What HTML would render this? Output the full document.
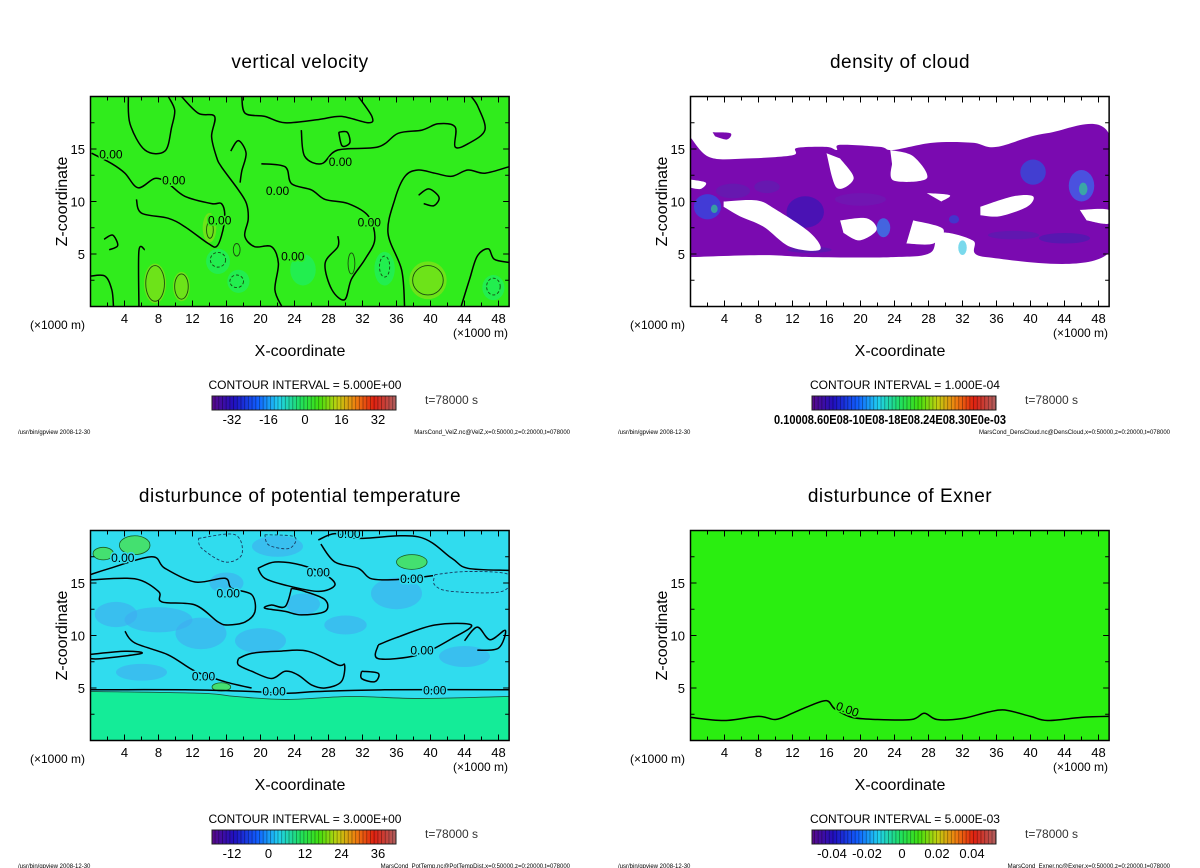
<!DOCTYPE html>
<html><head><meta charset="utf-8"><style>
html,body{margin:0;padding:0;background:#fff;width:1200px;height:868px;overflow:hidden}
svg{display:block;position:absolute;left:0;top:0;font-family:"Liberation Sans","DejaVu Sans",sans-serif}
</style></head><body>
<svg id="fig" width="1200" height="868" viewBox="0 0 1200 868" xmlns="http://www.w3.org/2000/svg">
<defs>
<linearGradient id="rainbow" x1="0" x2="1" y1="0" y2="0">
<stop offset="0" stop-color="#5a0a8a"/><stop offset="0.12" stop-color="#2010c0"/><stop offset="0.25" stop-color="#1060ff"/>
<stop offset="0.36" stop-color="#20d0f0"/><stop offset="0.48" stop-color="#20e060"/><stop offset="0.58" stop-color="#40e010"/>
<stop offset="0.68" stop-color="#c0d010"/><stop offset="0.78" stop-color="#f08010"/><stop offset="0.88" stop-color="#e02010"/><stop offset="1" stop-color="#b06060"/>
</linearGradient>
<pattern id="stripes" width="3.7" height="20" patternUnits="userSpaceOnUse"><rect x="0" y="0" width="0.9" height="20" fill="rgba(0,0,0,0.35)"/></pattern>
</defs>
<g id="root"></g>
</svg>
<script>
// ---------- data ----------
var xTickValues = [4,8,12,16,20,24,28,32,36,40,44,48];
var zTickValues = [5,10,15];
var velCbarLabels = ["-32","-16","0","16","32"];
var ptCbarLabels = ["-12","0","12","24","36"];
var exCbarLabels = ["-0.04","-0.02","0","0.02","0.04"];

var velContours = [
 [[0.13,14.6],[2.5,13.6],[4.05,12.7],[5.6,11.3],[7.6,12.2],[9.15,11.7],[11.1,10.5],[14.25,9.8],[15.4,9.8],[15.8,8.6],[15.4,6.7],[14.8,5.7],[13.85,6.0],[11.1,7.6],[9.15,8.4],[6.0,8.9],[5.4,10.2]],
 [[5.7,0],[5.7,5.3],[6.4,5.4]],
 [[4.45,20],[4.65,17.4],[6.4,14.9],[8.75,14.8],[9.55,17.1],[9.9,18.7],[9.15,20]],
 [[10.7,20],[12.7,18.4],[14.6,18.1],[14.25,16.2],[14.8,14.3],[15.4,13.3],[17.4,11.1],[18.35,9.8],[18.55,8.3],[18.15,6.7],[19.3,5.7],[21.3,5.7],[22.1,4.1],[21.7,1.6],[22.5,0]],
 [[17.8,20],[18.2,18.4],[20.5,18.1],[22.9,17.5],[26.8,17.8],[29.5,18.1],[32.7,17.5],[33.1,18.1],[31.5,20]],
 [[24.8,16.8],[25.2,14.3],[27.2,13.6],[29.1,14.9],[33.85,15.2],[36.2,16.5],[39,16.8],[40.9,17.4],[42.9,17.1],[42.9,15.2],[44.4,15.5],[46.4,16.8],[45.6,19.0],[44.8,20]],
 [[20.1,13.6],[22.9,13.3],[23.65,11.7],[26,11.1],[27.6,10.2],[30.3,9.8],[32.7,8.6],[33.45,6.4],[32.3,4.5],[30.7,2.6],[29.9,0.65],[28.4,1.6],[27.6,4.1],[29.1,5.7],[29.1,6.7]],
 [[36.95,0],[36.6,3.5],[35,7],[35.8,10.2],[37,12.4],[38.55,13],[40.5,12.7],[42.5,12.4],[44.4,13],[46.4,12.7],[49.2,13.3]],
 [[43.6,0],[44.6,2.6],[45.5,4.8],[46.8,5.5],[47.5,4.5],[49.2,4.2]],
 [[0,2.9],[1.7,2.9],[2.5,1.6],[2.7,0]],
 [[16.5,14.8],[17.4,15.8],[18.3,14.6],[17.8,12.9],[17.6,11.8]],
 [[29.2,16.6],[30.2,16.6],[30.5,15.6],[29.6,15.3],[29.2,16.6]],
 [[38.6,10.6],[39.8,11.2],[41,10.4],[40.4,9.6],[39.2,9.8]],
 [[1.6,6.4],[2.6,6.8],[3.2,5.8],[2.2,5.4]]
];
var velThinLoops = [[7.6,2.2,1.1,1.7],[10.7,1.9,0.8,1.2],[39.7,2.5,1.8,1.4],[14.05,7.3,0.4,0.8],[17.2,5.4,0.4,0.6],[30.7,4.1,0.4,1.0]];
var velDashLoops = [[15,4.45,0.9,0.7],[17.2,2.4,0.8,0.6],[34.6,3.8,0.6,1.0],[47.4,1.9,0.8,0.8]];
var velLabels = [[2.4,14.1],[9.8,11.6],[15.2,7.8],[22,10.6],[29.4,13.4],[32.8,7.6],[23.8,4.4]];
var velBrightSpots = [[7.6,2.2,1.3,1.9],[39.7,2.5,2.2,1.8],[10.7,1.9,1,1.4],[14,7.5,0.8,1.4]];
var velCyanSpots = [[15,4.3,1.4,1.2],[17.4,2.4,1.3,1.1],[34.6,3.6,1.2,1.6],[47.4,1.8,1.3,1.2],[25,3.5,1.5,1.5]];

var cloudOutline = [[0,16.1],[2.3,14.2],[6.6,14.1],[12,14.4],[12.5,15.1],[16,15.2],[17.2,14.9],[17.6,15.4],[22.3,15.2],[23.8,14.9],[28.5,15.6],[33.2,15.6],[36,15.2],[41.9,16.5],[49.2,16.5],[49.2,5.1],[34.8,4.7],[33.2,6.3],[29.3,7],[28.2,5.1],[23.8,4.7],[14.4,4.7],[8.5,4.9],[0,4.7]];
var cloudIsland = [[2.6,16.6],[4.7,16.5],[4.3,15.9],[2.9,16.2]];
var cloudHoles = [
 [[3.9,10.0],[7.8,10.1],[10.1,9.2],[14.1,7.0],[15.2,5.4],[11.7,5.7],[8.6,7.6],[5.8,8.6],[3.9,9.5]],
 [[23.5,14.9],[26.2,14.3],[27.8,12.2],[23.9,12.0],[23.7,13.6]],
 [[16,14.6],[17.2,11.3],[19.2,12.2],[17.6,14.1]],
 [[34.1,9.5],[38,10.5],[40.3,10.5],[39.6,9.5],[36.4,8.6],[34.1,8.7]],
 [[17.6,8.2],[20.7,8.4],[21.9,7.3],[19.9,6.3],[18,7.0]],
 [[26.2,8.2],[29.7,7.4],[28.6,6.0],[25.4,6.0]],
 [[45.8,9.2],[49.2,9.2],[49.2,7.9],[46.6,8.2]],
 [[0,12.1],[1.8,11.8],[1.2,11.2],[0,11.3]],
 [[27.8,10.8],[30.5,10.6],[29.5,10.0]]
];
var cloudPatches = [[13.5,9,2.2,1.5,"#2a18b8"],[5,11,2,0.7,"#5a22b0"],[9,11.4,1.5,0.6,"#5a22b0"],[2,9.5,1.6,1.2,"#1c5cf0"],[46,11.5,1.5,1.5,"#2a80ff"],[40.3,12.8,1.5,1.2,"#1c60e8"],[22.7,7.5,0.8,0.9,"#20a0ff"],[32,5.6,0.5,0.7,"#20c0e0"],[44,6.5,3,0.5,"#4020b0"],[14,5.4,2.6,0.3,"#4a20b0"],[38,6.8,3,0.4,"#5020b0"],[20,10.2,3,0.6,"#6a1cb4"],[46.2,11.2,0.5,0.6,"#30e080"],[2.8,9.3,0.4,0.4,"#30e080"],[31,8.3,0.6,0.4,"#2050e0"]];

var ptContours = [
 [[0,15.8],[2.3,16.4],[7.2,17.5],[8.75,16.4],[12.3,15.1],[15.8,15.45],[16.6,14.5],[18.95,13.9],[19.35,12.3],[18.2,11.3],[16.2,11.0],[15,11.3],[12.3,12.9],[8.4,13.2],[8,14.2],[5.2,15.4],[0,15.3]],
 [[4.05,10.4],[5.2,9.3],[9.15,8.15],[12.3,6.6],[15.8,5.6],[18.95,5.0]],
 [[0,8.2],[4.05,8.5],[6,8.3],[1.3,7.8],[0,7.8]],
 [[33.85,9.1],[36,9.8],[40.5,11],[44.8,11],[42.5,9.7],[38.55,8.15],[33.85,7.8],[33.85,9.1]],
 [[26.8,19.1],[28.75,19.7],[31.5,19.25],[38.55,19.4],[42.5,17.35],[44.4,16.4],[49.2,16.2]],
 [[27.1,18.7],[28.75,17.0],[31.5,16.4],[32.9,15.45],[35,15.3],[37.2,15.4],[40.3,15.7]],
 [[19.7,16.4],[21.7,17.0],[24.8,16.7],[27.6,15.8],[28.75,14.8],[26.8,14.2],[22.9,14.8],[20.5,15.45],[19.7,16.4]],
 [[23.65,14.5],[25.2,14.2],[27.6,13.4],[27.6,12.3],[24.8,11.96],[22.9,12.3],[20.5,12.6],[21.3,12.9],[22.9,12.75],[23.65,14.5]],
 [[17.4,7.8],[18.95,8.3],[22.1,8.5],[25.6,8.5],[29.1,7.2],[29.9,7.2],[29.5,5.6],[27.6,5.0],[26,5.3],[24.4,6.25],[22.9,6.6],[21.3,5.9],[18.95,6.6],[17.4,7.2],[17.4,7.8]],
 [[31.9,6.6],[33.85,6.4],[33.45,5.6],[31.9,5.9],[31.9,6.6]],
 [[0,4.83],[11.1,4.83],[18.95,4.67],[22.9,4.5],[26.8,4.67],[34.6,4.83],[49.2,4.83]],
 [[44,9.5],[45.5,10.8],[47,9.6],[48.8,10.5],[48,8.8],[45.5,8.6]]
];
var ptThin = [[0,4.67],[13.1,4.5],[17,4.2],[22.9,3.9],[30.7,4.2],[38.55,4.0],[49.2,4.2]];
var ptDashed = [
 [[12.7,19.25],[17,19.6],[17.8,17.7],[15.8,17.0],[13.1,18.3],[12.7,19.25]],
 [[40.5,15.8],[44.4,16.1],[49.2,15.8],[48.4,14.2],[42.5,14.2],[40.5,14.8],[40.5,15.8]],
 [[20.5,19.6],[24,19.4],[23.4,18.3],[21,18.6],[20.5,19.6]]
];
var ptLabels = [[3.8,17],[16.2,13.6],[26.8,15.6],[37.8,15.0],[30.4,19.3],[13.3,5.7],[21.6,4.3],[39,8.2],[40.5,4.4]];
var ptBlue = [[8,11.5,4,1.2],[13,10.2,3,1.5],[20,9.5,3,1.2],[25,13,2,1],[36,14,3,1.5],[44,8,3,1],[6,6.5,3,0.8],[22,18.5,3,1],[16,15,2,1],[30,11,2.5,0.9],[3,12,2.5,1.2]];
var ptGreen = [[5.2,18.6,1.8,0.9],[37.8,17.0,1.8,0.7],[15.4,5.1,1.1,0.4],[1.5,17.8,1.2,0.6]];

var exnerLine = [[0,2.2],[4,1.9],[8,2.3],[10,2.0],[12,2.6],[14,3.3],[16,3.8],[17,3.0],[19,2.2],[22,2.0],[26,2.0],[27.5,2.6],[29,2.0],[32,2.1],[35,2.7],[37,2.9],[40,2.3],[42,1.9],[46,2.2],[49.25,2.3]];

// ---------- drawing ----------
var NS = "http://www.w3.org/2000/svg";
var root = document.getElementById("root");
function mk(tag, attrs, parent){var e=document.createElementNS(NS,tag);for(var k in attrs)e.setAttribute(k,attrs[k]);(parent||root).appendChild(e);return e;}
function axX(ox){return function(v){return ox+v*8.5;};}
function axZ(oy){return function(v){return oy-v*10.5;};}
function smooth(pts,sx,sz,closed){
  var p=pts.map(function(q){return [sx(q[0]),sz(q[1])];});
  if(p.length<3){return "M"+p.map(function(q){return q.join(",");}).join("L");}
  var d="M"+p[0][0]+","+p[0][1];
  for(var i=0;i<p.length-1;i++){
    var p0=p[i-1]||p[i],p1=p[i],p2=p[i+1],p3=p[i+2]||p2;
    var c1=[p1[0]+(p2[0]-p0[0])/6,p1[1]+(p2[1]-p0[1])/6],c2=[p2[0]-(p3[0]-p1[0])/6,p2[1]-(p3[1]-p1[1])/6];
    d+="C"+c1[0].toFixed(1)+","+c1[1].toFixed(1)+" "+c2[0].toFixed(1)+","+c2[1].toFixed(1)+" "+p2[0].toFixed(1)+","+p2[1].toFixed(1);
  }
  return d+(closed?"Z":"");
}
function ell(g,e,sx,sz,fill,stroke,dash,w){
  var el=mk("ellipse",{cx:sx(e[0]),cy:sz(e[1]),rx:e[2]*8.5,ry:e[3]*10.5,fill:fill,stroke:stroke||"none","stroke-width":w||1},g);
  if(dash)el.setAttribute("stroke-dasharray",dash);
  return el;
}
function txt(g,x,y,s,size,anchor,extra){
  var t=mk("text",{x:x,y:y,"font-size":size,"text-anchor":anchor||"start",fill:"#000"},g);
  t.textContent=s;
  if(extra)for(var k in extra)t.setAttribute(k,extra[k]);
  return t;
}

function panelFrame(ox,oy,dx,title,ci,cbarLabels,footer,name){
  var g=mk("g",{});
  
  
  var sx=axX(ox),sz=axZ(oy);
  var t=txt(g,dx+300,68,title,19,"middle",{"letter-spacing":"0.5"});
  
  
  var yl=txt(g,0,0,"Z-coordinate",16,"middle",{transform:"translate("+(dx+67)+","+(306.5-105)+") rotate(-90)"});
  
  
  var xl=txt(g,dx+300,356,"X-coordinate",16,"middle");
  
  
  var u1=txt(g,dx+30,329,"(×1000 m)",12,"start");
  
  
  var u2=txt(g,dx+453,337,"(×1000 m)",12,"start");
  
  
  xTickValues.forEach(function(v){
    var tl=txt(g,dx+90.5+v*8.5,323,String(v),13,"middle");
    
    
  });
  zTickValues.forEach(function(v){
    var tl=txt(g,dx+85,306.5-v*10.5+5,String(v),13,"end");
    
    
  });
  var c=txt(g,dx+305,389,"CONTOUR INTERVAL = "+ci,12,"middle");
  
  
  var tt=txt(g,dx+425,404,"t=78000 s",12,"start",{fill:"#333"});
  
  
  var cb=mk("rect",{x:dx+212,y:396,width:184,height:14,fill:"url(#rainbow)",stroke:"#222","stroke-width":1},g);
  
  
  mk("rect",{x:dx+212,y:396,width:184,height:14,fill:"url(#stripes)"},g);
  if(cbarLabels){
    cbarLabels.forEach(function(s,i){
      var l=txt(g,dx+232+i*36.5,424,s,13,"middle");
      
      
    });
  }
  var f1=txt(g,dx+18,434,"/usr/bin/gpview   2008-12-30",6,"start");
  
  
  var f2=txt(g,dx+570,434,footer,6,"end");
  
  
  return g;
}
function axesBox(g,ox,oy,name){
  var sx=axX(ox),sz=axZ(oy);
  var b=mk("rect",{x:ox,y:sz(20),width:49.25*8.5,height:20*10.5,fill:"none",stroke:"#000","stroke-width":1.5},g);
  
  
  var d="";
  for(var v=2;v<=48;v+=2){var L=(v%4==0)?6:4;d+="M"+sx(v)+","+oy+"v-"+L+"M"+sx(v)+","+sz(20)+"v"+L;}
  for(var z=2.5;z<20;z+=2.5){var L2=(z%5==0)?6:4;d+="M"+ox+","+sz(z)+"h"+L2+"M"+(ox+49.25*8.5)+","+sz(z)+"h-"+L2;}
  var tk=mk("path",{d:d,stroke:"#000","stroke-width":1,fill:"none"},g);
  
  
}
function clip(id,ox,oy){
  var cp=mk("clipPath",{id:id},document.querySelector("defs"));
  mk("rect",{x:ox,y:oy-210,width:49.25*8.5,height:210},cp);
}

// ----- Panel 1
(function(){
  var ox=90.5,oy=306.5,sx=axX(ox),sz=axZ(oy);
  var g=panelFrame(ox,oy,0,"vertical velocity","5.000E+00",velCbarLabels,"MarsCond_VelZ.nc@VelZ,x=0:50000,z=0:20000,t=078000","velocity");
  clip("c1",ox,oy);
  var p=mk("g",{"clip-path":"url(#c1)"},g);
  var bg=mk("rect",{x:ox,y:oy-210,width:420,height:210,fill:"#30ec1c"},p);
  
  
  velCyanSpots.forEach(function(e){var s=ell(p,e,sx,sz,"#18f07a");s.setAttribute("opacity","0.55");});
  velBrightSpots.forEach(function(e){var s=ell(p,e,sx,sz,"#88e018");s.setAttribute("opacity","0.7");});
  velContours.forEach(function(c){
    var l=mk("path",{d:smooth(c,sx,sz,false),fill:"none",stroke:"#000","stroke-width":1.5,"stroke-linejoin":"round"},p);
    
    
  });
  velThinLoops.forEach(function(e){var s=ell(p,e,sx,sz,"none","#1a4a10",null,0.9);});
  velDashLoops.forEach(function(e){var s=ell(p,e,sx,sz,"none","#1a4a10","3,2",0.9);});
  velLabels.forEach(function(q){var l=txt(p,sx(q[0]),sz(q[1]),"0.00",12,"middle",{stroke:"#30ec1c","stroke-width":3,"paint-order":"stroke"});});
  axesBox(g,ox,oy,"velocity");
})();

// ----- Panel 2
(function(){
  var ox=690.5,oy=306.5,sx=axX(ox),sz=axZ(oy);
  var g=panelFrame(ox,oy,600,"density of cloud","1.000E-04",null,"MarsCond_DensCloud.nc@DensCloud,x=0:50000,z=0:20000,t=078000","cloud");
  var cl=txt(g,890,424,"0.10008.60E08-10E08-18E08.24E08.30E0e-03",13,"middle",{"font-weight":"bold",textLength:232,lengthAdjust:"spacingAndGlyphs"});
  
  
  clip("c2",ox,oy);
  var p=mk("g",{"clip-path":"url(#c2)"},g);
  var o=mk("path",{d:smooth(cloudOutline,sx,sz,true),fill:"#7a0ab0"},p);
  
  
  var is=mk("path",{d:smooth(cloudIsland,sx,sz,true),fill:"#7a0ab0"},p);
  
  
  cloudPatches.forEach(function(e){var s=ell(p,e,sx,sz,e[4]);s.setAttribute("opacity","0.6");});
  cloudHoles.forEach(function(h){
    var w=mk("path",{d:smooth(h,sx,sz,true),fill:"#fff"},p);
    
    
  });
  axesBox(g,ox,oy,"cloud");
})();

// ----- Panel 3
(function(){
  var ox=90.5,oy=740.5,sx=axX(ox),sz=axZ(oy);
  var g=panelFrame(ox,oy,0,"","3.000E+00",ptCbarLabels,"MarsCond_PotTemp.nc@PotTempDist,x=0:50000,z=0:20000,t=078000","pottemp");
  g.setAttribute("transform","translate(0,434)");
  var t=txt(root,300,502,"disturbunce of potential temperature",19,"middle",{"letter-spacing":"0.5"});
  
  
  var g2=mk("g",{});
  clip("c3",ox,oy);
  var p=mk("g",{"clip-path":"url(#c3)"},g2);
  var bg=mk("rect",{x:ox,y:oy-210,width:420,height:210,fill:"#30dcee"},p);
  
  
  ptBlue.forEach(function(e){var s=ell(p,e,sx,sz,"#40acf0");s.setAttribute("opacity","0.6");});
  var low=mk("path",{d:smooth(ptThin,sx,sz,false)+"L"+sx(49.25)+","+oy+"L"+sx(0)+","+oy+"Z",fill:"#14ec98"},p);
  
  
  ptGreen.forEach(function(e){var s=ell(p,e,sx,sz,"#44e070","#1a5a20",null,0.8);});
  var tl=mk("path",{d:smooth(ptThin,sx,sz,false),fill:"none",stroke:"#1a5a40","stroke-width":0.9},p);
  
  
  ptContours.forEach(function(c){
    var l=mk("path",{d:smooth(c,sx,sz,false),fill:"none",stroke:"#000","stroke-width":1.5,"stroke-linejoin":"round"},p);
    
    
  });
  ptDashed.forEach(function(c){
    var l=mk("path",{d:smooth(c,sx,sz,false),fill:"none",stroke:"#1a3a60","stroke-width":0.9,"stroke-dasharray":"3,2"},p);
    
    
  });
  ptLabels.forEach(function(q){var l=txt(p,sx(q[0]),sz(q[1]),"0.00",12,"middle",{stroke:"#30dcee","stroke-width":3,"paint-order":"stroke"});});
  axesBox(g2,ox,oy,"pottemp");
})();

// ----- Panel 4
(function(){
  var ox=690.5,oy=740.5,sx=axX(ox),sz=axZ(oy);
  var g=panelFrame(ox,oy,600,"","5.000E-03",null,"MarsCond_Exner.nc@Exner,x=0:50000,z=0:20000,t=078000","exner");
  g.setAttribute("transform","translate(0,434)");
  var t=txt(root,900,502,"disturbunce of Exner",19,"middle",{"letter-spacing":"0.5"});
  
  
  exCbarLabels.forEach(function(s,i){
    var l=txt(root,832+i*35,858,s,13,"middle");
    
    
  });
  var g2=mk("g",{});
  clip("c4",ox,oy);
  var p=mk("g",{"clip-path":"url(#c4)"},g2);
  var bg=mk("rect",{x:ox,y:oy-210,width:420,height:210,fill:"#2aee10"},p);
  
  
  var l=mk("path",{d:smooth(exnerLine,sx,sz,false),fill:"none",stroke:"#000","stroke-width":1.5},p);
  
  
  var lb=txt(p,sx(18.3),sz(2.6),"0.00",12,"middle",{stroke:"#2aee10","stroke-width":3,"paint-order":"stroke",transform:"rotate(20 "+sx(18.3)+" "+sz(2.6)+")"});
  
  
  axesBox(g2,ox,oy,"exner");
})();
</script>
</body></html>
